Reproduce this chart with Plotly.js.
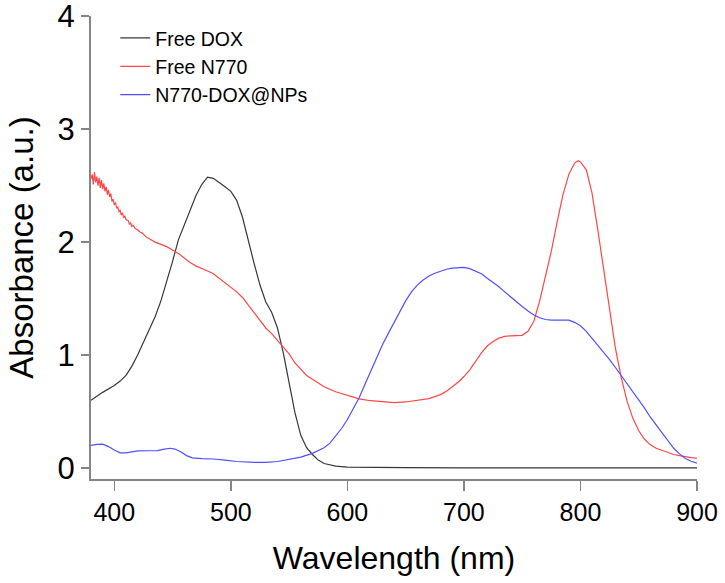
<!DOCTYPE html>
<html>
<head>
<meta charset="utf-8">
<script src="https://cdn.plot.ly/plotly-3.0.1.min.js"></script>
<style>html,body{margin:0;padding:0;background:#fff;}#chart{width:725px;height:583px;}</style>
</head>
<body>
<div id="chart"></div>
<script>
// Free DOX
const doxWavelength = [380,390,400,405,410,415,420,425,430,435,440,445,450,455,460,465,470,475,480,485,490,495,500,505,510,515,520,525,530,535,540,545,550,555,560,565,570,575,580,590,600,620,650,700,750,800,850,900];
const doxAbs = [0.60,0.67,0.73,0.77,0.82,0.90,1.00,1.11,1.22,1.34,1.48,1.65,1.83,2.02,2.15,2.27,2.41,2.51,2.575,2.565,2.53,2.49,2.45,2.37,2.22,2.01,1.81,1.62,1.47,1.38,1.24,1.02,0.76,0.49,0.29,0.18,0.12,0.07,0.04,0.017,0.008,0.004,0.003,0.002,0.002,0.002,0.002,0.002];

// Free N770
const n770Wavelength = [380,381,382,383,384,385,386,387,388,389,390,391,392,393,394,395,396,397,398,399,400,401,402,403,404,405,406,407,408,409,410,412,413,414,415,416,418,420,422,424,426,428,430,435,440,445,450,455,460,465,470,475,480,485,490,495,500,505,510,515,520,525,530,535,540,545,550,555,560,565,570,575,580,590,600,610,620,630,640,650,660,670,680,685,690,695,700,705,710,715,720,725,730,735,740,745,750,755,760,765,770,775,780,785,790,795,798,800,805,810,815,820,825,830,835,840,845,850,855,860,865,870,875,880,885,890,895,900];
const n770Abs = [2.56,2.60,2.51,2.62,2.53,2.58,2.50,2.57,2.48,2.55,2.47,2.52,2.45,2.49,2.42,2.46,2.40,2.43,2.36,2.38,2.33,2.35,2.30,2.31,2.27,2.28,2.24,2.26,2.22,2.23,2.20,2.19,2.16,2.17,2.14,2.15,2.12,2.11,2.09,2.08,2.06,2.04,2.03,2.00,1.98,1.96,1.93,1.90,1.86,1.82,1.79,1.77,1.745,1.72,1.68,1.64,1.60,1.56,1.51,1.44,1.38,1.31,1.24,1.19,1.13,1.076,1.01,0.93,0.87,0.82,0.785,0.75,0.72,0.675,0.64,0.612,0.596,0.586,0.58,0.585,0.598,0.615,0.65,0.68,0.72,0.76,0.81,0.87,0.945,1.02,1.08,1.12,1.15,1.165,1.17,1.17,1.175,1.21,1.30,1.48,1.70,1.92,2.18,2.42,2.60,2.70,2.72,2.71,2.64,2.43,2.10,1.75,1.40,1.06,0.80,0.59,0.44,0.33,0.255,0.205,0.175,0.155,0.135,0.12,0.11,0.10,0.093,0.088];

// N770-DOX@NPs
const npWavelength = [380,385,390,395,400,405,410,415,420,430,437,443,448,452,457,462,467,475,485,495,505,520,530,540,550,560,570,580,585,590,595,600,605,610,615,620,625,630,635,640,645,650,655,660,665,670,675,680,685,690,695,700,705,710,715,720,725,730,735,740,745,750,755,760,765,770,775,780,785,790,795,800,805,810,815,820,825,830,835,840,845,850,855,860,865,870,875,880,885,890,895,900];
const npAbs = [0.20,0.21,0.212,0.19,0.16,0.135,0.135,0.145,0.152,0.153,0.155,0.168,0.175,0.168,0.145,0.11,0.09,0.083,0.08,0.07,0.058,0.05,0.05,0.058,0.075,0.097,0.13,0.18,0.22,0.28,0.35,0.43,0.52,0.62,0.74,0.86,0.98,1.09,1.19,1.29,1.39,1.48,1.56,1.62,1.665,1.70,1.725,1.745,1.76,1.77,1.776,1.777,1.765,1.745,1.72,1.68,1.645,1.605,1.56,1.515,1.47,1.43,1.39,1.355,1.33,1.315,1.31,1.31,1.31,1.31,1.29,1.26,1.21,1.15,1.09,1.03,0.96,0.89,0.82,0.75,0.68,0.61,0.53,0.45,0.38,0.31,0.24,0.175,0.125,0.085,0.06,0.044];

const seriesNames = ['Free DOX','Free N770','N770-DOX@NPs'];
const xTickVals = [400,500,600,700,800,900];
const yTickVals = [0,1,2,3,4];

const FONT = 'Liberation Sans, Arial, Helvetica, sans-serif';
const AXIS_GRAY = '#858585';

const traces = [
  {x: doxWavelength, y: doxAbs, name: seriesNames[0], mode: 'lines', line: {color: 'rgb(55,55,55)', width: 1.2}},
  {x: n770Wavelength, y: n770Abs, name: seriesNames[1], mode: 'lines', line: {color: 'rgb(255,70,70)', width: 1.2}},
  {x: npWavelength, y: npAbs, name: seriesNames[2], mode: 'lines', line: {color: 'rgb(80,80,255)', width: 1.2}}
];

const layout = {
  width: 725, height: 583,
  margin: {l: 91, r: 28, t: 16, b: 104},
  paper_bgcolor: '#ffffff', plot_bgcolor: '#ffffff',
  font: {family: FONT, color: '#000'},
  showlegend: true,
  legend: {x: 0.04, y: 0.994, xanchor: 'left', yanchor: 'top', bgcolor: 'rgba(0,0,0,0)', borderwidth: 0, font: {family: FONT, size: 19.5, color: '#000'}},
  xaxis: {
    range: [380, 900], tickvals: xTickVals, ticktext: xTickVals.map(String),
    showline: true, linecolor: AXIS_GRAY, linewidth: 2,
    ticks: 'outside', ticklen: 10, tickwidth: 1.5, tickcolor: AXIS_GRAY,
    showgrid: false, zeroline: false, ticklabeloverflow: 'allow',
    tickfont: {family: FONT, size: 25, color: '#000'},
    title: {text: 'Wavelength (nm)', font: {family: FONT, size: 32, color: '#000'}, standoff: 22},
    automargin: false
  },
  yaxis: {
    range: [-0.097, 4.002], tickvals: yTickVals, ticktext: yTickVals.map(String),
    showline: true, linecolor: AXIS_GRAY, linewidth: 2,
    ticks: 'outside', ticklen: 8, tickwidth: 1.5, tickcolor: AXIS_GRAY,
    showgrid: false, zeroline: false, ticklabeloverflow: 'allow',
    tickfont: {family: FONT, size: 31, color: '#000'},
    title: {text: 'Absorbance (a.u.)', font: {family: FONT, size: 33, color: '#000'}, standoff: 14},
    automargin: false
  }
};

Plotly.newPlot('chart', traces, layout, {displayModeBar: false, staticPlot: true});
</script>
</body>
</html>
